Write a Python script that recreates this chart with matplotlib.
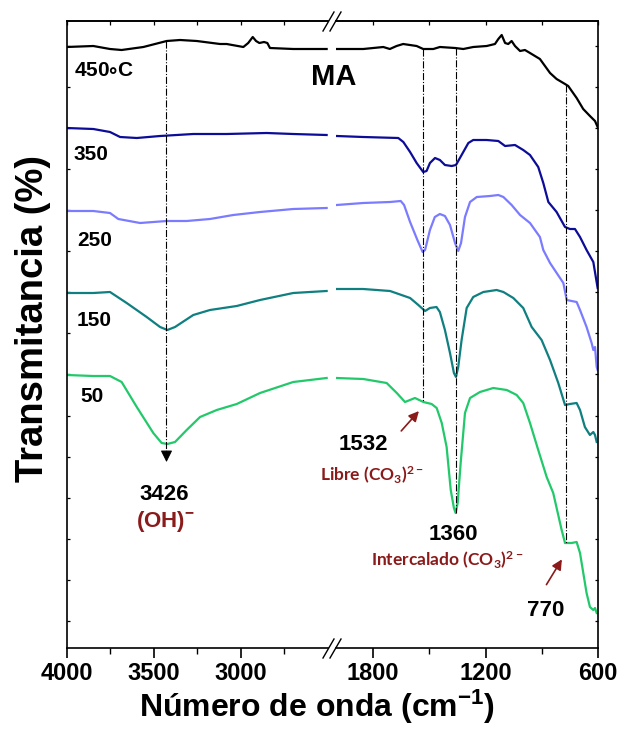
import numpy as np
import matplotlib
matplotlib.use("Agg")
import matplotlib.pyplot as plt
from matplotlib.lines import Line2D

plt.rcParams['font.family'] = ['Liberation Sans', 'DejaVu Sans']
plt.rcParams['font.weight'] = 'bold'
plt.rcParams['mathtext.default'] = 'regular'

# Espectros FTIR (transmitancia desplazada, unidades arbitrarias)
# tramo izquierdo 4000-2500 cm-1
wn_450_l = [4000, 3847, 3751, 3684, 3559, 3425, 3348, 3252, 3118, 3080, 2984, 2956, 2930, 2911, 2892, 2865, 2846, 2831, 2697, 2505]
t_450_l = [601, 602, 599, 598, 601, 607, 608, 607, 604, 604, 601, 605, 611, 607, 605, 606, 605, 600, 599, 599]
wn_350_l = [4000, 3847, 3751, 3693, 3597, 3463, 3272, 3080, 2850, 2697, 2505]
t_350_l = [520, 519, 516, 511, 510, 512, 514, 514, 515, 514, 513]
wn_250_l = [4000, 3847, 3751, 3703, 3578, 3425, 3310, 3176, 3042, 2888, 2697, 2505]
t_250_l = [437, 437, 435, 429, 425, 427, 427, 429, 433, 436, 439, 440]
wn_150_l = [4000, 3847, 3751, 3655, 3540, 3463, 3421, 3377, 3272, 3176, 3022, 2888, 2697, 2505]
t_150_l = [355, 355, 356, 345, 331, 321, 318, 321, 333, 338, 342, 348, 355, 357]
wn_50_l = [4000, 3847, 3751, 3684, 3597, 3502, 3454, 3421, 3377, 3310, 3233, 3137, 3022, 2888, 2697, 2505]
t_50_l = [273, 272, 272, 266, 241, 215, 205, 204, 206, 218, 231, 238, 244, 255, 266, 270]

# tramo derecho 2000-600 cm-1
wn_450_r = [1995, 1853, 1746, 1711, 1675, 1640, 1568, 1533, 1479, 1444, 1363, 1319, 1266, 1194, 1150, 1132, 1114,
            1096, 1079, 1061, 1043, 1016, 990, 963, 910, 856, 821, 776, 759, 714, 679, 643, 616, 602]
t_450_r = [599, 599, 601, 599, 602, 604, 602, 599, 599, 601, 600, 599, 601, 602, 604, 609, 613,
           605, 604, 607, 602, 597, 598, 595, 589, 575, 569, 564, 562, 550, 539, 532, 527, 521]
wn_350_r = [1995, 1853, 1666, 1639, 1603, 1568, 1533, 1515, 1497, 1470, 1444, 1417, 1381, 1358, 1328, 1292, 1266,
            1194, 1132, 1096, 1043, 999, 963, 919, 892, 865, 821, 776, 750, 723, 696, 661, 625, 602]
t_350_r = [512, 511, 510, 506, 496, 485, 476, 477, 485, 490, 488, 483, 482, 483, 493, 505, 508,
           508, 507, 502, 503, 498, 493, 481, 465, 446, 436, 421, 419, 419, 411, 398, 386, 360]
wn_250_r = [1995, 1853, 1710, 1653, 1635, 1603, 1564, 1536, 1523, 1497, 1471, 1444, 1417, 1390, 1363, 1346, 1331,
            1310, 1283, 1247, 1176, 1132, 1105, 1061, 1016, 963, 910, 892, 856, 785, 767, 714, 696, 661, 634,
            625, 616, 607, 602]
t_250_r = [443, 445, 446, 447, 443, 426, 408, 396, 398, 418, 431, 434, 432, 423, 405, 397, 405,
           431, 446, 451, 452, 453, 451, 443, 433, 425, 411, 398, 385, 365, 348, 346, 338, 321, 305,
           298, 301, 281, 278]
wn_150_r = [1995, 1853, 1710, 1603, 1559, 1523, 1497, 1462, 1444, 1417, 1390, 1369, 1358, 1346, 1328, 1301, 1266,
            1212, 1141, 1105, 1052, 999, 954, 901, 856, 812, 776, 750, 714, 696, 670, 643, 625, 616, 607]
t_150_r = [359, 359, 357, 350, 343, 337, 340, 341, 336, 318, 295, 275, 271, 281, 308, 340, 351,
           356, 358, 356, 350, 340, 321, 308, 288, 265, 243, 244, 245, 238, 221, 213, 216, 213, 206]
wn_50_r = [1995, 1853, 1728, 1674, 1630, 1577, 1532, 1488, 1461, 1434, 1408, 1386, 1369, 1360, 1349, 1333, 1310,
           1283, 1230, 1159, 1087, 1034, 999, 963, 919, 874, 839, 794, 776, 741, 714, 696, 661, 643, 625, 616, 607]
t_50_r = [270, 269, 265, 255, 246, 250, 246, 244, 240, 225, 201, 158, 140, 135, 145, 185, 235,
          250, 256, 260, 258, 253, 245, 225, 198, 171, 155, 118, 105, 105, 106, 95, 55, 41, 38, 40, 35]

temps = ["450${\\circ}$C", "350", "250", "150", "50"]
colores = ["black", "#0c0c98", "#7b7bff", "#0f7f80", "#22c96a"]
picos = [3426, 1532, 1360, 770]

rojo = "#8b1a1a"

curvas = [
    (wn_450_l, t_450_l, wn_450_r, t_450_r),
    (wn_350_l, t_350_l, wn_350_r, t_350_r),
    (wn_250_l, t_250_l, wn_250_r, t_250_r),
    (wn_150_l, t_150_l, wn_150_r, t_150_r),
    (wn_50_l, t_50_l, wn_50_r, t_50_r),
]
# posicion de las etiquetas de temperatura (wn, T)
pos_etiquetas = [(3958, 577), (3962, 494), (3942, 408), (3942, 327), (3920, 251)]


def valor(wn, t, x):
    return np.interp(x, wn[::-1], t[::-1])


fig = plt.figure(figsize=(6.24, 7.42), dpi=100)
ax1 = fig.add_axes([66.7 / 624, 94 / 742, 260.8 / 624, 627 / 742])
ax2 = fig.add_axes([335.7 / 624, 94 / 742, 262.3 / 624, 627 / 742])

for (wl, tl, wr, tr), c, lab, (xl, yl) in zip(curvas, colores, temps, pos_etiquetas):
    ax1.plot(wl, tl, color=c, lw=1.6)
    ax2.plot(wr, tr, color=c, lw=1.6)
    ax1.text(xl, yl, lab, fontsize=15, ha='left', va='center')

# lineas verticales de los picos
top = valor(wn_450_l, t_450_l, picos[0])
bot = valor(wn_50_l, t_50_l, picos[0])
ax1.plot([picos[0], picos[0]], [top, bot - 12], color='k', ls='-.', lw=0.8)
ax1.annotate('', xy=(picos[0], bot - 21), xytext=(picos[0], bot - 8),
             arrowprops=dict(arrowstyle='-|>,head_length=0.7,head_width=0.35', color='k', lw=0.8))
for p in picos[1:]:
    top = valor(wn_450_r, t_450_r, p)
    bot = valor(wn_50_r, t_50_r, p)
    ax2.plot([p, p], [top, bot], color='k', ls='-.', lw=0.8)

# flechas rojas
ax2.annotate('', xy=(1546, 239), xytext=(1660, 215),
             arrowprops=dict(arrowstyle='-|>,head_length=0.6,head_width=0.3', color=rojo, lw=1.2))
ax2.annotate('', xy=(785, 91), xytext=(883, 61),
             arrowprops=dict(arrowstyle='-|>,head_length=0.6,head_width=0.3', color=rojo, lw=1.2))

# textos
ax1.text(3440, 154, "3426", fontsize=16, ha='center', va='center')
ax1.text(3430, 126, "(OH)$^{-}$", fontsize=16, ha='center', va='center', color=rojo)
ax2.text(1853, 203, "1532", fontsize=16, ha='center', va='center')
ax2.text(1806, 173, "Libre (CO$_{3}$)$^{2-}$", fontsize=12.5, family='Lato', ha='center', va='center', color=rojo)
ax2.text(1372, 113, "1360", fontsize=16, ha='center', va='center')
ax2.text(1406, 88, "Intercalado (CO$_{3}$)$^{2-}$", fontsize=12.5, family='Lato', ha='center', va='center', color=rojo)
ax2.text(880, 38, "770", fontsize=16, ha='center', va='center')
fig.text(334 / 624, 1 - 77 / 742, "MA", fontsize=21, ha='center', va='center')

# ejes
ax1.set_xlim(4000, 2500)
ax2.set_xlim(2000, 600)
for ax in (ax1, ax2):
    ax.set_ylim(0, 627)
    ax.set_yticks(np.arange(27, 610, 41.1))
    for s in ax.spines.values():
        s.set_linewidth(1.2)
    ax.tick_params(axis='x', which='major', direction='out', length=7, width=1.2, labelsize=17, pad=3)
    ax.tick_params(axis='x', which='minor', direction='out', length=4, width=1.0)
    ax.tick_params(axis='y', direction='in', length=2.5, width=0.9, labelleft=False)

ax1.set_xticks([4000, 3500, 3000])
ax1.set_xticks([3750, 3250, 2750], minor=True)
ax2.set_xticks([1800, 1200, 600])
ax2.set_xticks([1500, 900], minor=True)
ax1.spines['right'].set_visible(False)
ax2.spines['left'].set_visible(False)
ax1.tick_params(axis='y', left=True, right=False)
ax2.tick_params(axis='y', left=False, right=True)

# marcas en el borde superior, hacia dentro
for ax in (ax1, ax2):
    sec = ax.secondary_xaxis('top')
    sec.set_xticks(ax.get_xticks())
    sec.set_xticks(ax.get_xticks(minor=True), minor=True)
    sec.tick_params(which='both', direction='in', length=3, width=0.9, labeltop=False)
    sec.spines['top'].set_linewidth(1.2)

# simbolo de corte //
for py in (21, 648):
    for dx in (0, 7):
        fig.add_artist(Line2D([(323 + dx) / 624, (334 + dx) / 624],
                              [1 - (py + 10) / 742, 1 - (py - 9) / 742], color='k', lw=1.0))

fig.text(33 / 624, 1 - 318 / 742, "Transmitancia (%)", fontsize=27.5, rotation=90, ha='center', va='center')
fig.text(317 / 624, 1 - 717 / 742, "Número de onda (cm$^{-1}$)", fontsize=23, ha='center', va='baseline')

fig.savefig("out.png", dpi=100)
